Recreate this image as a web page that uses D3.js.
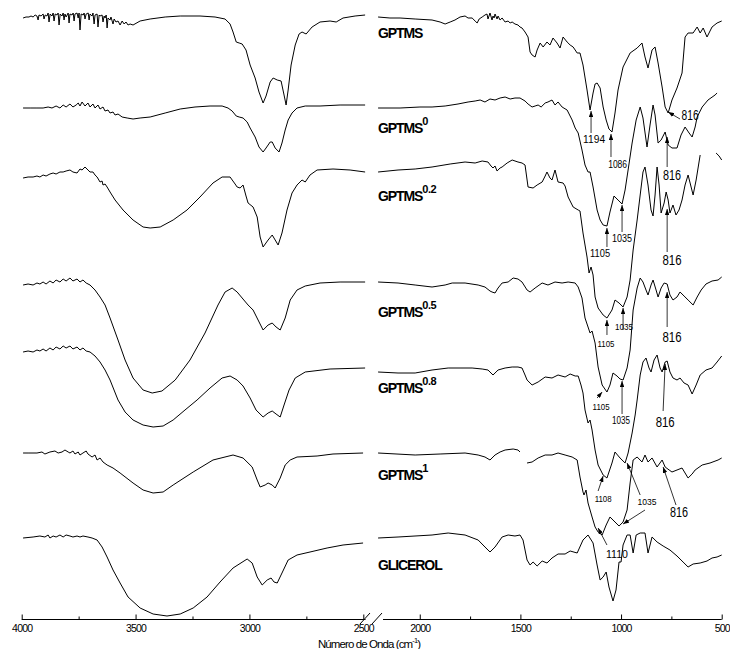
<!DOCTYPE html>
<html><head><meta charset="utf-8">
<script src="https://cdn.jsdelivr.net/npm/d3@7"></script>
<style>body{margin:0;background:#fff}svg{display:block}</style>
</head><body>
<script>
// ---- DATA: [wavenumber (cm-1), transmittance with vertical offset (a.u.)] ----
const gptmsLeft = [[3994,602],[3981,603],[3968,603],[3959,604],[3950,603],[3941,605],[3933,604],[3928,600],[3924,605],[3915,604],[3906,606],[3902,601],[3897,605],[3889,604],[3884,607],[3880,598],[3875,606],[3867,604],[3862,607],[3858,599],[3853,606],[3845,605],[3840,607],[3836,595],[3831,606],[3823,604],[3818,607],[3814,600],[3810,606],[3805,603],[3796,607],[3792,597],[3788,606],[3779,605],[3774,607],[3770,599],[3766,606],[3757,607],[3752,602],[3748,607],[3744,590],[3739,606],[3730,605],[3726,607],[3722,601],[3717,606],[3708,607],[3704,600],[3700,606],[3691,604],[3687,607],[3682,596],[3678,605],[3669,606],[3665,593],[3660,605],[3656,604],[3647,605],[3643,598],[3638,604],[3634,602],[3629,605],[3625,592],[3621,602],[3612,600],[3608,603],[3599,596],[3594,601],[3586,598],[3577,599],[3568,595],[3559,599],[3550,596],[3542,598],[3533,595],[3524,596],[3511,595],[3480,599],[3436,601],[3370,603],[3304,604],[3217,604],[3151,603],[3107,601],[3085,596],[3072,588],[3058,578],[3045,577],[3032,576],[3015,570],[2997,555],[2975,542],[2958,528],[2940,517],[2927,524],[2909,538],[2896,542],[2878,540],[2861,539],[2848,525],[2839,515],[2830,530],[2817,555],[2799,575],[2782,586],[2769,588],[2751,586],[2725,593],[2690,598],[2646,599],[2619,598],[2589,602],[2536,604],[2492,605]];
const gptmsRight = [[2207,603],[2148,602],[2098,602],[2023,601],[1939,600],[1899,598],[1874,596],[1849,598],[1825,600],[1800,603],[1775,604],[1760,602],[1740,602],[1725,599],[1715,597],[1705,601],[1690,603],[1676,605],[1666,606],[1661,601],[1656,604],[1651,607],[1641,600],[1636,604],[1631,602],[1626,606],[1616,601],[1611,604],[1601,600],[1591,602],[1576,598],[1561,599],[1551,597],[1541,598],[1527,596],[1512,595],[1502,593],[1492,592],[1477,588],[1462,583],[1452,568],[1442,565],[1427,563],[1417,570],[1402,577],[1387,573],[1368,578],[1353,575],[1338,582],[1318,577],[1303,572],[1288,583],[1268,578],[1253,575],[1238,573],[1218,567],[1204,567],[1189,555],[1169,530],[1154,510],[1139,527],[1129,536],[1119,537],[1104,532],[1089,513],[1074,500],[1060,491],[1045,488],[1030,507],[1015,530],[990,553],[955,567],[920,572],[896,577],[881,563],[866,552],[846,570],[831,573],[816,557],[796,533],[781,513],[766,507],[747,520],[722,532],[697,547],[682,583],[667,587],[642,587],[622,593],[607,587],[592,592],[573,583],[548,593],[523,597],[500,599]];

const gptms0Left = [[3994,512],[3963,512],[3933,512],[3906,512],[3884,513],[3867,512],[3849,514],[3832,512],[3818,515],[3805,513],[3788,516],[3775,513],[3761,515],[3752,517],[3744,514],[3735,518],[3722,514],[3709,517],[3700,513],[3687,516],[3678,512],[3665,515],[3656,511],[3643,513],[3634,509],[3621,510],[3612,507],[3599,508],[3590,505],[3577,506],[3559,503],[3537,502],[3511,501],[3480,502],[3436,503],[3370,507],[3304,511],[3239,513],[3173,514],[3120,514],[3094,512],[3076,509],[3058,504],[3045,503],[3028,502],[3010,498],[2997,492],[2975,483],[2958,473],[2940,468],[2927,472],[2909,478],[2900,478],[2887,472],[2870,468],[2857,477],[2843,490],[2830,500],[2813,507],[2791,512],[2755,514],[2690,514],[2602,515],[2492,515]];
const gptms0Right = [[2207,512],[2098,512],[1999,513],[1939,513],[1874,514],[1810,516],[1760,518],[1725,519],[1700,520],[1676,518],[1651,521],[1626,520],[1601,522],[1576,523],[1551,521],[1527,522],[1502,522],[1477,519],[1462,516],[1442,513],[1427,514],[1412,515],[1397,513],[1377,517],[1363,518],[1343,520],[1328,515],[1313,518],[1293,513],[1268,510],[1243,500],[1228,492],[1213,487],[1194,470],[1179,455],[1164,448],[1154,448],[1139,433],[1119,410],[1104,400],[1089,395],[1070,394],[1055,408],[1035,424],[1015,420],[995,416],[980,430],[965,450],[945,477],[925,500],[905,513],[891,502],[871,473],[856,495],[841,515],[831,505],[816,477],[801,480],[781,488],[766,475],[747,472],[722,472],[702,485],[682,493],[662,487],[647,483],[632,493],[622,503],[597,513],[568,520],[533,525],[523,527]];

const gptms02Left = [[3994,442],[3972,443],[3950,443],[3933,444],[3920,443],[3906,445],[3893,444],[3876,446],[3862,447],[3849,446],[3832,448],[3818,448],[3805,449],[3788,450],[3775,448],[3757,447],[3744,451],[3735,450],[3722,453],[3709,450],[3700,448],[3687,448],[3678,445],[3669,443],[3656,438],[3647,439],[3643,435],[3634,436],[3625,433],[3612,428],[3590,420],[3555,410],[3511,400],[3467,393],[3436,392],[3392,393],[3335,400],[3274,410],[3217,423],[3160,437],[3120,443],[3085,443],[3063,436],[3054,433],[3041,432],[3028,435],[3015,424],[3006,417],[2984,413],[2966,403],[2953,383],[2940,373],[2918,380],[2900,385],[2887,380],[2874,375],[2857,387],[2835,410],[2813,427],[2791,435],[2769,440],[2755,438],[2734,445],[2703,450],[2633,451],[2558,450],[2492,448]];
const gptms02Right = [[2207,448],[2108,450],[2023,451],[1939,453],[1849,456],[1775,458],[1725,457],[1690,459],[1661,458],[1646,454],[1636,452],[1626,454],[1616,449],[1601,452],[1591,453],[1566,457],[1541,460],[1512,458],[1492,457],[1477,455],[1462,433],[1437,432],[1417,435],[1392,438],[1377,444],[1368,448],[1353,442],[1343,440],[1328,450],[1313,438],[1288,437],[1278,434],[1263,423],[1238,413],[1213,410],[1204,409],[1189,387],[1169,363],[1159,347],[1149,353],[1139,345],[1129,323],[1114,312],[1089,305],[1070,302],[1045,310],[1030,320],[1010,317],[990,313],[970,323],[955,340],[940,370],[920,400],[905,425],[891,448],[881,453],[866,435],[851,410],[841,404],[831,425],[821,453],[811,435],[801,407],[786,417],[776,428],[766,420],[757,407],[742,415],[727,405],[712,410],[697,420],[682,435],[667,445],[657,437],[642,425],[627,440],[607,465],null,[528,467],[513,464],[500,460]];

const gptms05Left = [[3994,335],[3972,336],[3950,335],[3933,337],[3920,336],[3906,338],[3893,336],[3876,339],[3862,337],[3849,340],[3832,338],[3818,341],[3805,339],[3788,342],[3775,339],[3757,341],[3744,338],[3731,340],[3717,337],[3700,335],[3678,330],[3656,323],[3634,315],[3612,302],[3577,280],[3546,260],[3511,242],[3467,230],[3427,227],[3384,229],[3326,240],[3261,260],[3195,287],[3138,315],[3107,328],[3076,332],[3054,328],[3032,322],[3006,315],[2984,310],[2962,300],[2940,290],[2918,295],[2900,297],[2883,293],[2865,290],[2843,302],[2821,320],[2791,330],[2755,334],[2690,337],[2602,338],[2492,338]];
const gptms05Right = [[2207,338],[2108,337],[2023,335],[1939,333],[1874,335],[1839,337],[1775,337],[1710,335],[1676,333],[1651,329],[1641,328],[1626,327],[1611,332],[1591,337],[1561,338],[1536,342],[1512,341],[1492,338],[1467,330],[1452,328],[1427,332],[1392,337],[1363,335],[1328,338],[1293,337],[1263,338],[1228,337],[1213,333],[1194,322],[1179,302],[1164,293],[1154,287],[1144,289],[1129,277],[1114,253],[1094,235],[1070,228],[1055,235],[1040,247],[1020,244],[1005,241],[990,240],[970,252],[955,270],[940,310],[920,332],[905,342],[891,338],[876,330],[866,325],[851,335],[841,340],[826,330],[816,323],[801,332],[786,337],[771,336],[757,325],[742,320],[722,323],[707,328],[687,324],[667,320],[642,315],[622,323],[602,330],[578,336],[548,339],[518,340],[500,343]];

const gptms08Left = [[3994,268],[3972,269],[3950,268],[3933,270],[3920,269],[3906,271],[3893,269],[3876,272],[3862,270],[3849,273],[3832,271],[3818,274],[3805,272],[3788,274],[3775,271],[3757,273],[3744,270],[3731,272],[3717,269],[3700,268],[3678,264],[3656,258],[3634,250],[3612,240],[3577,220],[3546,208],[3511,200],[3467,195],[3423,193],[3379,194],[3335,200],[3283,210],[3230,220],[3173,232],[3120,242],[3085,244],[3054,240],[3028,234],[2997,222],[2971,210],[2940,203],[2918,207],[2900,209],[2883,206],[2865,203],[2848,215],[2826,230],[2799,242],[2755,248],[2646,251],[2492,252]];
const gptms08Right = [[2207,248],[2108,247],[2023,247],[1939,250],[1859,252],[1800,252],[1740,252],[1690,251],[1661,250],[1636,245],[1611,250],[1576,252],[1541,253],[1512,253],[1492,252],[1477,245],[1467,240],[1442,235],[1412,238],[1377,243],[1343,242],[1313,245],[1278,243],[1253,246],[1228,244],[1213,244],[1199,235],[1189,227],[1179,210],[1164,197],[1154,200],[1144,190],[1129,170],[1114,155],[1089,145],[1070,142],[1045,157],[1030,168],[1005,162],[980,157],[965,167],[945,187],[930,205],[920,220],[905,245],[891,258],[876,262],[861,252],[851,248],[836,260],[821,265],[806,252],[796,248],[781,258],[771,259],[757,248],[742,242],[722,240],[707,242],[687,237],[667,235],[647,226],[627,235],[607,245],[578,250],[548,252],[523,258],[500,264]];

const gptms1Left = [[3994,167],[3972,167],[3933,167],[3911,168],[3898,166],[3876,168],[3854,169],[3840,167],[3823,168],[3810,170],[3796,168],[3788,167],[3775,169],[3766,166],[3752,168],[3744,165],[3731,167],[3717,169],[3709,166],[3691,163],[3678,165],[3669,160],[3656,162],[3643,158],[3625,155],[3599,152],[3568,147],[3511,137],[3467,130],[3423,127],[3379,128],[3335,135],[3247,148],[3160,160],[3072,165],[3028,162],[2988,153],[2966,140],[2953,133],[2931,135],[2918,137],[2900,135],[2887,132],[2865,142],[2843,155],[2821,160],[2791,163],[2703,164],[2633,166],[2501,167]];
const gptms1Right = [[2207,167],[2023,165],[1899,166],[1775,167],[1710,165],[1676,163],[1651,160],[1626,165],[1601,168],[1576,170],[1536,171],[1512,170],[1502,168],null,[1467,157],[1442,158],[1412,162],[1377,165],[1343,165],[1313,167],[1278,165],[1243,163],[1218,160],[1204,143],[1189,128],[1184,125],[1174,130],[1164,117],[1144,103],[1129,93],[1114,88],[1094,85],[1074,95],[1055,103],[1030,98],[1010,94],[990,98],[970,110],[955,137],[940,160],[920,163],[896,158],[881,165],[866,158],[846,162],[821,153],[796,160],[781,153],[761,150],[747,148],[722,150],[697,152],[682,147],[667,142],[647,146],[632,150],[597,155],[558,157],[518,160],[500,162]];

const glicerolLeft = [[3994,82],[3950,83],[3920,84],[3898,83],[3884,85],[3876,82],[3862,84],[3849,83],[3832,85],[3818,83],[3805,85],[3788,84],[3775,83],[3757,84],[3744,83],[3731,84],[3709,83],[3691,82],[3669,80],[3647,73],[3625,63],[3599,50],[3568,37],[3533,23],[3480,12],[3423,6],[3362,4],[3304,6],[3247,12],[3186,23],[3129,38],[3072,52],[3010,61],[2988,57],[2966,43],[2944,35],[2922,40],[2905,42],[2892,38],[2878,37],[2857,47],[2830,60],[2791,65],[2734,68],[2659,72],[2589,75],[2501,77]];
const glicerolRight = [[2207,82],[2108,83],[1939,85],[1859,87],[1775,85],[1710,80],[1676,73],[1651,68],[1626,73],[1591,83],[1561,85],[1527,84],[1502,85],[1487,80],[1467,60],[1452,55],[1437,58],[1417,54],[1392,59],[1368,57],[1343,62],[1313,66],[1278,66],[1253,69],[1218,67],[1189,80],[1164,85],[1139,77],[1119,55],[1104,40],[1089,43],[1074,48],[1060,33],[1040,19],[1025,30],[1010,58],[1000,58],[990,75],[970,85],[955,85],[940,67],[925,85],[905,87],[881,87],[866,67],[846,83],[821,78],[791,74],[757,70],[722,64],[692,58],[667,53],[642,56],[607,57],[573,59],[548,62],[523,63],[500,65]];

const sampleNames = ["GPTMS","GPTMS","GPTMS","GPTMS","GPTMS","GPTMS","GLICEROL"];
const sampleSups  = ["","0","0.2","0.5","0.8","1",""];
const sampleLabelT = [582,487,419,303,227,140,50];

const leftTicksMajor = [4000,3500,3000,2500];
const leftTicksMinor = [3750,3250,2750];
const rightTicksMajor = [2000,1500,1000,500];
const rightTicksMinor = [1750,1250,750];
const axisTitle = "Número de Onda (cm";

// peak annotations: text, label anchor [wn,T], arrows [[fromWn,fromT],[toWn,toT]]
const peakTexts = ["1194","1086","816","816","1105","1035","816","1105","1035","816","1105","1035","816","1108","1035","816","1110"];
const peakLabelPos = [[1134,477],[1017,452],[657,500],[747,440],[1104,363],[995,378],[747,355],[1075,273],[985,290],[747,278],[1099,210],[1000,196],[781,193],[1089,118],[871,115],[712,103],[1020,62]];
const peakArrows = [
  [[[1149,487],[1149,509]]],
  [[[1050,463],[1050,486]]],
  [[[707,501],[766,508]]],
  [[[771,453],[771,483]]],
  [[[1070,373],[1070,392]]],
  [[[995,388],[995,415]]],
  [[[771,368],[771,411]]],
  [[[1070,285],[1070,300]]],
  [[[990,290],[990,312]]],
  [[[771,293],[771,328]]],
  [[[1119,222],[1094,228]]],
  [[[995,206],[995,239]]],
  [[[791,209],[781,256]]],
  [[[1114,129],[1089,144]]],
  [[[905,125],[970,157]],[[881,110],[990,96]]],
  [[[727,115],[791,153]]],
  [[[1070,75],[1114,92]]]
];
// ---- layout ----
const peakFont = [11,10,14,14,10,10,14,9,9,14,9,10,14,9,9,14,11];
const peakWidth = [22,19,17,18,20,20,19,17,18,19,17,18,19,17,19,18,22];

const W=730,H=649;
const svg=d3.select("body").append("svg").attr("width",W).attr("height",H)
  .style("font-family","'Liberation Sans', Arial, sans-serif");
const xL=d3.scaleLinear().domain([4000,2500]).range([21.7,363.3]);
const xR=d3.scaleLinear().domain([2200,500]).range([379.5,721.7]);
const y=d3.scaleLinear().domain([0,620]).range([620,0]);

const lineL=d3.line().defined(d=>d!==null).x(d=>xL(d[0])).y(d=>y(d[1]));
const lineR=d3.line().defined(d=>d!==null).x(d=>xR(d[0])).y(d=>y(d[1]));

const lefts=[gptmsLeft,gptms0Left,gptms02Left,gptms05Left,gptms08Left,gptms1Left,glicerolLeft];
const rights=[gptmsRight,gptms0Right,gptms02Right,gptms05Right,gptms08Right,gptms1Right,glicerolRight];
lefts.forEach(s=>svg.append("path").attr("d",lineL(s)).attr("fill","none").attr("stroke","#000").attr("stroke-width",1));
rights.forEach(s=>svg.append("path").attr("d",lineR(s)).attr("fill","none").attr("stroke","#000").attr("stroke-width",1));

// axes
const axisY=619.5;
function drawAxis(scale, major, minor, x0, x1){
  const g=svg.append("g").attr("transform",`translate(0,${axisY})`);
  g.append("line").attr("x1",x0).attr("x2",x1).attr("stroke","#000").attr("stroke-width",1);
  const ax=d3.axisBottom(scale).tickValues(major).tickSize(-5).tickPadding(5).tickFormat(d3.format("d"));
  const ga=svg.append("g").attr("transform",`translate(0,${axisY})`).call(ax);
  ga.select(".domain").remove();
  ga.selectAll(".tick line").attr("stroke","#000");
  ga.selectAll(".tick text").attr("font-size",10.5).attr("fill","#000").attr("letter-spacing","-0.8px")
    .attr("font-family","'Liberation Sans', Arial, sans-serif");
  const am=d3.axisBottom(scale).tickValues(minor).tickSize(-3).tickFormat("");
  const gm=svg.append("g").attr("transform",`translate(0,${axisY})`).call(am);
  gm.select(".domain").remove();
  gm.selectAll(".tick line").attr("stroke","#000");
}
drawAxis(xL,leftTicksMajor,leftTicksMinor,xL(4000),xL(2490));
drawAxis(xR,rightTicksMajor,rightTicksMinor,383,xR(500));
// break marks
svg.append("line").attr("x1",360).attr("y1",624).attr("x2",370).attr("y2",613).attr("stroke","#000");
svg.append("line").attr("x1",372).attr("y1",624).attr("x2",382).attr("y2",613).attr("stroke","#000");

// axis title
const tt=svg.append("text").attr("x",369).attr("y",647.5).attr("text-anchor","middle")
  .attr("font-size",11.5).attr("letter-spacing","-0.9px").attr("fill","#000");
tt.append("tspan").text(axisTitle);
tt.append("tspan").attr("dy",-5).attr("font-size",7.5).text("-1");
tt.append("tspan").attr("dy",5).text(")");

// sample labels
sampleNames.forEach((n,i)=>{
  const t=svg.append("text").attr("x",xR(2207)).attr("y",y(sampleLabelT[i]))
    .attr("font-size",14).attr("font-weight","bold").attr("letter-spacing","-1.1px").attr("fill","#000");
  t.append("tspan").text(n);
  if(sampleSups[i]) t.append("tspan").attr("dy",-8).attr("font-size",11).attr("letter-spacing","-0.5px").text(sampleSups[i]);
});

// arrow marker
svg.append("defs").append("marker").attr("id","ah").attr("viewBox","0 0 8 6").attr("refX",8).attr("refY",3)
  .attr("markerWidth",6).attr("markerHeight",4.5).attr("orient","auto").attr("markerUnits","userSpaceOnUse")
  .append("path").attr("d","M0,0 L8,3 L0,6 z").attr("fill","#000");

peakTexts.forEach((t,i)=>{
  svg.append("text").attr("x",xR(peakLabelPos[i][0])).attr("y",y(peakLabelPos[i][1]))
    .attr("text-anchor","middle").attr("font-size",peakFont[i]).attr("fill","#000")
    .attr("textLength",peakWidth[i]).attr("lengthAdjust","spacingAndGlyphs").text(t);
  peakArrows[i].forEach(a=>{
    svg.append("line").attr("x1",xR(a[0][0])).attr("y1",y(a[0][1])).attr("x2",xR(a[1][0])).attr("y2",y(a[1][1]))
      .attr("stroke","#000").attr("stroke-width",0.8).attr("marker-end","url(#ah)");
  });
});
</script>
</body></html>
